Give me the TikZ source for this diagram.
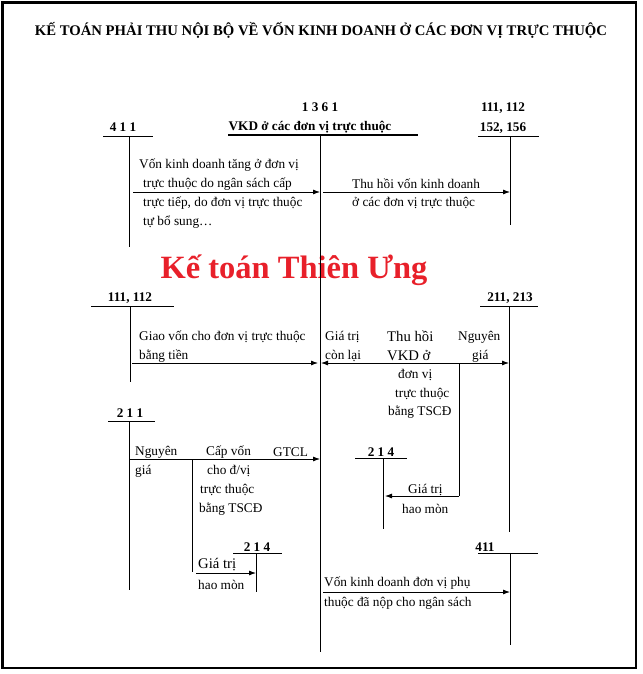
\documentclass[tikz,border=0pt]{standalone}
\usepackage{fontspec}
\setmainfont{Liberation Serif}
\usetikzlibrary{arrows.meta}
\definecolor{wmred}{HTML}{E8202A}
\tikzset{
  txt/.style={anchor=west,inner sep=0pt,font=\fontsize{13.3}{15}\selectfont},
  big/.style={anchor=west,inner sep=0pt,font=\fontsize{14.7}{16}\selectfont},
  acc/.style={anchor=center,inner sep=0pt,font=\bfseries\fontsize{13.2}{15}\selectfont},
  tline/.style={line width=0.8pt},
  conn/.style={line width=0.8pt,-{Latex[length=7pt,width=5pt]}},
}
\begin{document}
\begin{tikzpicture}[x=1pt,y=-1pt]
\useasboundingbox (0,0) rectangle (642,674);
\draw[line width=2.6pt] (2.5,2.5) rectangle (636,668);
\node[anchor=center,inner sep=0pt,font=\bfseries\fontsize{14.7}{16}\selectfont] (title) at (321,30) {KẾ TOÁN PHẢI THU NỘI BỘ VỀ VỐN KINH DOANH Ở CÁC ĐƠN VỊ TRỰC THUỘC};
% watermark
\node[anchor=center,inner sep=0pt,text=wmred,font=\bfseries\fontsize{32.5}{35}\selectfont] (wm) at (294,270) {Kế toán Thiên Ưng};
% account headers
\node[acc] (h1361) at (320,107) {1 3 6 1};
\node[acc] (hvkd) at (310,127) {VKD ở các đơn vị trực thuộc};
\node[acc] (h411a) at (123,127) {4 1 1};
\node[acc] (h111a) at (503,108) {111, 112};
\node[acc] (h152) at (503,128) {152, 156};
\node[acc] (h111b) at (130,298) {111, 112};
\node[acc] (h211b) at (510,298) {211, 213};
\node[acc] (h211) at (130,413) {2 1 1};
\node[acc] (h214a) at (381,452) {2 1 4};
\node[acc] (h214b) at (257,547) {2 1 4};
\node[acc] (h411b) at (485,547) {411};
% T-account coordinates
\coordinate (m1) at (228,134.5); \coordinate (m2) at (418,134.5);
\coordinate (mt) at (320,134.5); \coordinate (mb) at (320,652);
\coordinate (a1) at (103,136); \coordinate (a2) at (153,136);
\coordinate (at) at (129,136); \coordinate (ab) at (129,247);
\coordinate (b1) at (478,136); \coordinate (b2) at (539,136);
\coordinate (bt) at (510,136); \coordinate (bb) at (510,225);
\coordinate (c1) at (91,306); \coordinate (c2) at (174,306);
\coordinate (ct) at (130,306); \coordinate (cb) at (130,382);
\coordinate (d1) at (480,306); \coordinate (d2) at (538,306);
\coordinate (dt) at (509,306); \coordinate (db) at (509,532);
\coordinate (e1) at (108,421); \coordinate (e2) at (155,421);
\coordinate (et) at (129,421); \coordinate (eb) at (129,590);
\coordinate (f1) at (355,458.5); \coordinate (f2) at (407,458.5);
\coordinate (ft) at (383,458.5); \coordinate (fb) at (383,529);
\coordinate (g1) at (233,553); \coordinate (g2) at (282,553);
\coordinate (gt) at (256,553); \coordinate (gb) at (256,592);
\coordinate (k1) at (478,553); \coordinate (k2) at (538,553);
\coordinate (kt) at (510,553); \coordinate (kb) at (510,645);
\draw[line width=2pt] (m1) -- (m2);
\draw[tline] (mt) -- (mb);
\foreach \n in {a,b,c,d,e,f,g,k}{
  \draw[tline] (\n1) -- (\n2);
  \draw[tline] (\n t) -- (\n b);
}
% connectors
\coordinate (p1s) at (133,192); \coordinate (p1e) at (320,192);
\draw[conn] (p1s) -- (p1e);
\coordinate (p2s) at (323,192); \coordinate (p2e) at (510,192);
\draw[conn] (p2s) -- (p2e);
\coordinate (p3s) at (132,363); \coordinate (p3e) at (318,363);
\draw[conn] (p3s) -- (p3e);
\coordinate (q) at (459,363); \coordinate (ql) at (321,363); \coordinate (qr) at (509,363);
\coordinate (qd) at (459,496); \coordinate (qe) at (385,496);
\draw[conn] (q) -- (ql);
\draw[conn] (q) -- (qr);
\draw[tline] (q) -- (qd);
\draw[conn] (qd) -- (qe);
\coordinate (r1) at (130,459); \coordinate (r2) at (320,459);
\draw[conn] (r1) -- (r2);
\coordinate (rs) at (192,459); \coordinate (rd) at (192,572);
\draw[tline] (rs) -- (rd);
\coordinate (s1) at (196,573); \coordinate (s2) at (256,573);
\draw[conn] (s1) -- (s2);
\coordinate (u1) at (323,592); \coordinate (u2) at (510,592);
\draw[conn] (u1) -- (u2);
% texts
\node[txt] (t1a) at (139,165) {Vốn kinh doanh tăng ở đơn vị};
\node[txt] (t1b) at (143,184) {trực thuộc do ngân sách cấp};
\node[txt] (t1c) at (143,203) {trực tiếp, do đơn vị trực thuộc};
\node[txt] (t1d) at (143,222) {tự bổ sung…};
\node[txt] (t2a) at (352,184) {Thu hồi vốn kinh doanh};
\node[txt] (t2b) at (352,203) {ở các đơn vị trực thuộc};
\node[txt] (t3a) at (139,337) {Giao vốn cho đơn vị trực thuộc};
\node[txt] (t3b) at (139,356) {bằng tiền};
\node[txt] (t4a) at (325,337) {Giá trị};
\node[txt] (t4b) at (325,356) {còn lại};
\node[big] (t4c) at (387,336) {Thu hồi};
\node[big] (t4d) at (387,356) {VKD ở};
\node[txt] (t4e) at (458,337) {Nguyên};
\node[txt] (t4f) at (472,356) {giá};
\node[txt] (t4g) at (398,375) {đơn vị};
\node[txt] (t4h) at (395,394) {trực thuộc};
\node[txt] (t4i) at (388,412) {bằng TSCĐ};
\node[txt] (t5a) at (135,452) {Nguyên};
\node[txt] (t5b) at (135,471) {giá};
\node[txt] (t5c) at (206,452) {Cấp vốn};
\node[txt] (t5d) at (207,471) {cho đ/vị};
\node[txt] (t5e) at (200,490) {trực thuộc};
\node[txt] (t5f) at (199,509) {bằng TSCĐ};
\node[txt] (t5g) at (273,452) {GTCL};
\node[txt] (t6a) at (408,490) {Giá trị};
\node[txt] (t6b) at (402,509) {hao mòn};
\node[big] (t7a) at (198,565) {Giá trị};
\node[txt] (t7b) at (198,585) {hao mòn};
\node[txt] (t8a) at (324,583) {Vốn kinh doanh đơn vị phụ};
\node[txt] (t8b) at (324,603) {thuộc đã nộp cho ngân sách};
\end{tikzpicture}
\end{document}
